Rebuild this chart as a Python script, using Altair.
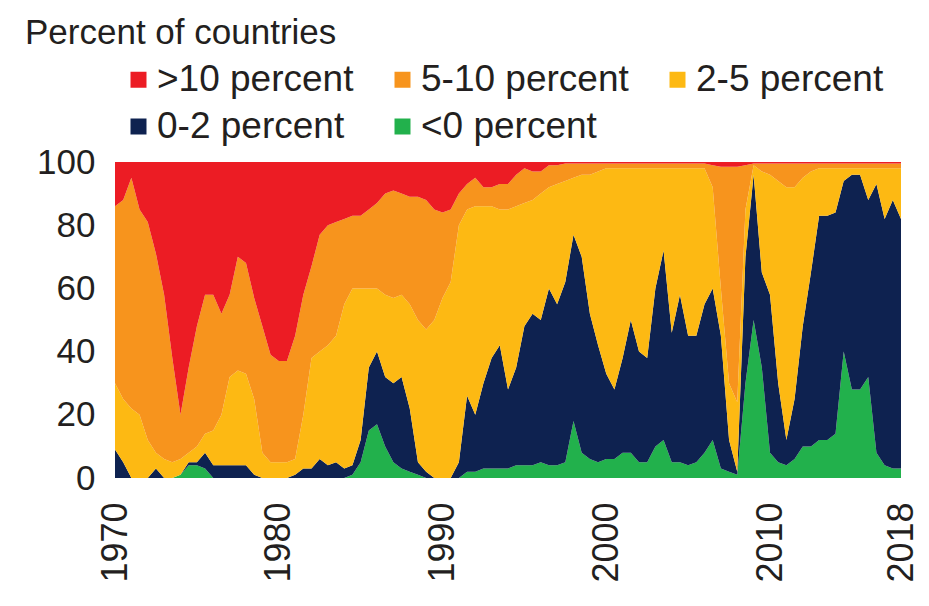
import altair as alt
import pandas as pd

# half-year grid, 1970 .. 2018
years = [1970 + 0.5 * i for i in range(97)]

# cumulative upper boundaries (percent of countries)
top_below0 = [
    0, 0, 0, 0, 0, 0, 0, 0, 1, 4,
    4, 3, 0, 0, 0, 0, 0, 0, 0, 0,
    0, 0, 0, 0, 0, 0, 0, 0, 0, 1,
    5, 15, 17, 10, 5, 3, 2, 1, 0, 0,
    0, 0, 0, 2, 2, 3, 3, 3, 3, 4,
    4, 4, 5, 4, 4, 5, 18, 8, 6, 5,
    6, 6, 8, 8, 5, 5, 10, 12, 5, 5,
    4, 5, 8, 12, 3, 2, 1, 30, 50, 35,
    8, 5, 4, 6, 10, 10, 12, 12, 14, 40,
    28, 28, 32, 8, 4, 3, 3,
]
top_0_2 = [
    9, 5, 0, 0, 0, 3, 0, 0, 1, 5,
    5, 8, 4, 4, 4, 4, 4, 1, 0, 0,
    0, 0, 1, 3, 3, 6, 4, 5, 3, 4,
    12, 35, 40, 32, 30, 32, 22, 5, 2, 0,
    0, 0, 5, 26, 20, 30, 38, 42, 28, 35,
    48, 52, 50, 60, 55, 62, 77, 70, 52, 42,
    33, 28, 38, 50, 40, 38, 60, 72, 46, 58,
    45, 45, 55, 60, 45, 12, 2, 70, 96, 65,
    58, 30, 12, 25, 48, 65, 83, 83, 84, 94,
    96, 96, 88, 93, 82, 88, 82,
]
top_2_5 = [
    30, 25, 22, 20, 12, 8, 6, 5, 6, 8,
    10, 14, 15, 20, 32, 34, 33, 25, 8, 5,
    5, 5, 6, 20, 38, 40, 42, 45, 55, 60,
    60, 60, 60, 58, 57, 58, 55, 50, 47, 50,
    57, 62, 80, 85, 86, 86, 86, 85, 85, 86,
    87, 88, 90, 92, 93, 94, 95, 96, 96, 97,
    98, 98, 98, 98, 98, 98, 98, 98, 98, 98,
    98, 98, 98, 92, 60, 30, 24, 85, 99, 97,
    96, 94, 92, 92, 95, 97, 98, 98, 98, 98,
    98, 98, 98, 98, 98, 98, 98,
]
top_5_10 = [
    86, 88, 95, 85, 81, 71, 58, 38, 20, 35,
    48, 58, 58, 52, 58, 70, 68, 57, 48, 39,
    37, 37, 45, 58, 67, 77, 80, 81, 82, 83,
    83, 85, 87, 90, 91, 90, 89, 89, 88, 85,
    84, 85, 90, 93, 95, 92, 92, 93, 93, 96,
    98, 97, 97, 99, 99, 99.5, 99.5, 99.5, 99.5, 99.5,
    99.5, 99.5, 99.5, 99.5, 99.5, 99.5, 99.5, 99.5, 99.5, 99.5,
    99.5, 99.5, 99.5, 99, 98.5, 98.5, 98.5, 99, 99.5, 99.5,
    99.5, 99.5, 99.5, 99.5, 99.5, 99.5, 99.5, 99.5, 99.5, 99.5,
    99.5, 99.5, 99.5, 99.5, 99.5, 99.5, 99.5,
]

bands = [">10 percent", "5-10 percent", "2-5 percent", "0-2 percent", "<0 percent"]
colors = ["#EC1C24", "#F7941D", "#FDB913", "#0E2250", "#22B14C"]
x_ticks = [1970, 1980, 1990, 2000, 2010, 2018]
y_ticks = [0, 20, 40, 60, 80, 100]

rows = []
for i, yr in enumerate(years):
    g = top_below0[i]
    n = max(top_0_2[i], g)
    y = max(top_2_5[i], n)
    o = max(top_5_10[i], y)
    shares = {
        "<0 percent": g,
        "0-2 percent": n - g,
        "2-5 percent": y - n,
        "5-10 percent": o - y,
        ">10 percent": 100 - o,
    }
    for k, band in enumerate(reversed(bands)):
        rows.append({"year": yr, "band": band, "share": shares[band], "order": k})
df = pd.DataFrame(rows)

FONT = "Liberation Sans"
TXT = "#231F20"

chart = alt.Chart(df).mark_area(interpolate="linear").encode(
    x=alt.X(
        "year:Q",
        scale=alt.Scale(domain=[1970, 2018], nice=False, zero=False),
        axis=alt.Axis(
            values=x_ticks, format="d", labelAngle=270, title=None,
            domain=False, ticks=False, grid=False, labelPadding=24,
            labelFontSize=36, labelFont=FONT, labelColor=TXT,
        ),
    ),
    y=alt.Y(
        "share:Q", stack="zero",
        scale=alt.Scale(domain=[0, 100], nice=False),
        axis=alt.Axis(
            values=y_ticks, title=None, domain=False, ticks=False, grid=False,
            labelPadding=20, labelFontSize=35, labelFont=FONT, labelColor=TXT,
        ),
    ),
    color=alt.Color(
        "band:N",
        scale=alt.Scale(domain=bands, range=colors),
        legend=alt.Legend(
            orient="none", legendX=5, legendY=-101, direction="horizontal",
            columns=3, symbolType="square", symbolSize=256, symbolStrokeWidth=0,
            labelFontSize=37, labelFont=FONT, labelColor=TXT, columnPadding=30,
            rowPadding=9, title=None, labelLimit=0, labelOffset=0, padding=0,
        ),
    ),
    order=alt.Order("order:Q", sort="ascending"),
).properties(
    width=786,
    height=316,
    autosize=alt.AutoSizeParams(type="none"),
    padding={"left": 107, "top": 154, "right": 20, "bottom": 115},
    title=alt.Title(
        "Percent of countries", anchor="start", frame="group", dx=-90,
        fontSize=35, font=FONT, fontWeight="normal", color=TXT, offset=10,
    ),
).configure_view(stroke=None)

chart.save("out.html", embed_options={"renderer": "svg", "actions": False})
